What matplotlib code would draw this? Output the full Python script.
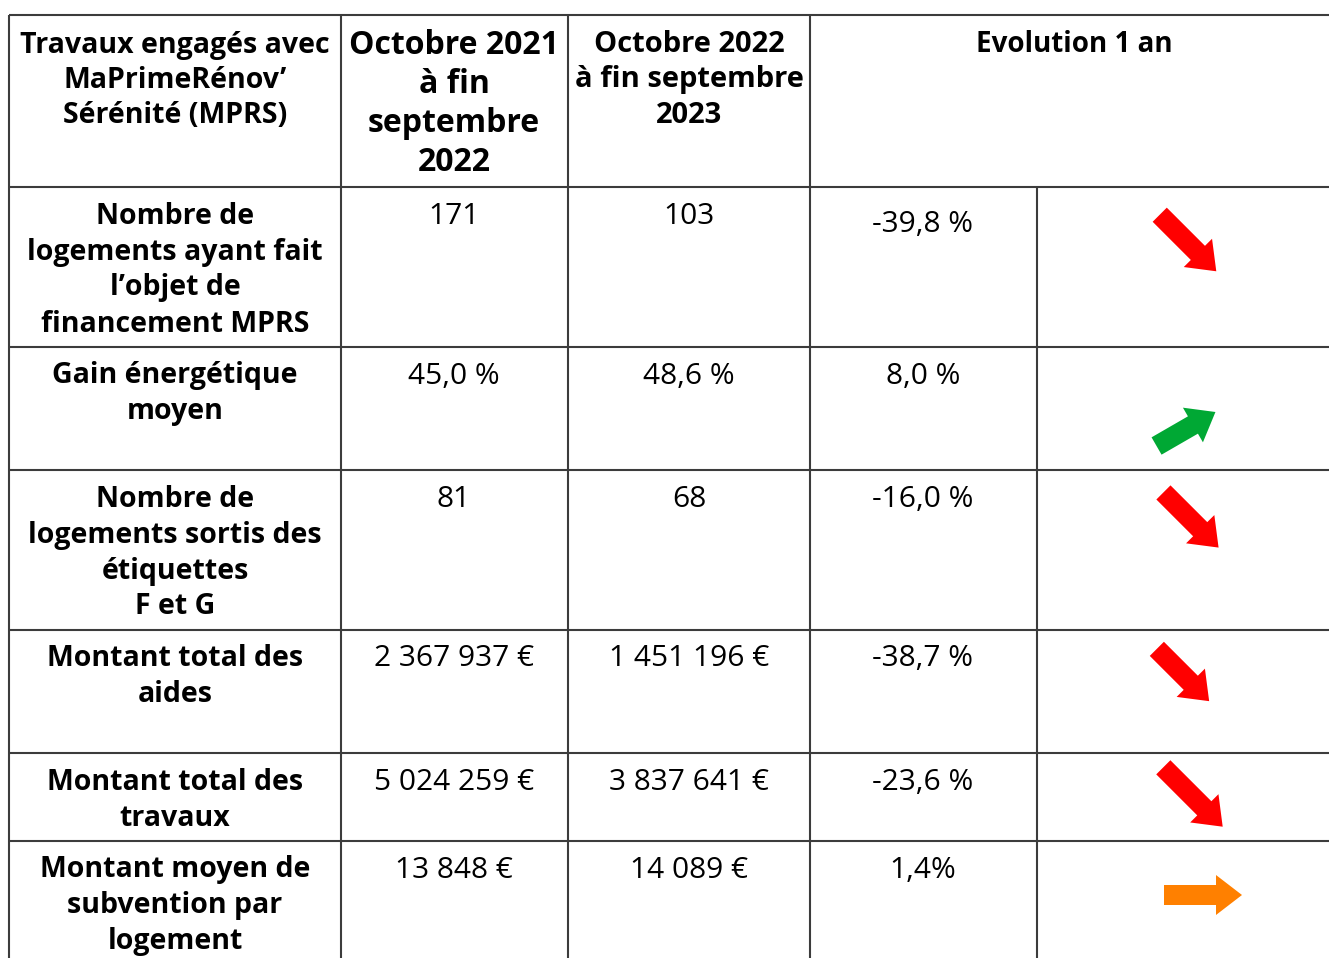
import matplotlib
matplotlib.use('Agg')
import matplotlib.pyplot as plt
from matplotlib.patches import FancyArrow
import numpy as np

plt.rcParams['font.family'] = ['Open Sans', 'DejaVu Sans']

# table content
headers = [
    "Travaux engagés avec\nMaPrimeRénov’\nSérénité (MPRS)",
    "Octobre 2021\nà fin\nseptembre\n2022",
    "Octobre 2022\nà fin septembre\n2023",
    "Evolution 1 an",
]
row_labels = [
    "Nombre de\nlogements ayant fait\nl’objet de\nfinancement MPRS",
    "Gain énergétique\nmoyen",
    "Nombre de\nlogements sortis des\nétiquettes\nF et G",
    "Montant total des\naides",
    "Montant total des\ntravaux",
    "Montant moyen de\nsubvention par\nlogement",
]
val_2022 = ["171", "45,0 %", "81", "2 367 937 €", "5 024 259 €", "13 848 €"]
val_2023 = ["103", "48,6 %", "68", "1 451 196 €", "3 837 641 €", "14 089 €"]
evolution = ["-39,8 %", "8,0 %", "-16,0 %", "-38,7 %", "-23,6 %", "1,4%"]
trend = ["baisse", "hausse", "baisse", "baisse", "baisse", "stable"]

# layout (pixels)
W, H = 1329, 958
col_x = [9, 341, 568, 810, 1037]
row_y = [15, 187, 347, 470, 630, 753, 841]
col_c = [175, 454, 689, 923]
line_h = 36
evo_dy = [8, 0, 0, 0, 0, 0]
arrow_cx = [1188, 1186, 1191, 1183, 1193, 1203]
arrow_dy = [56, 82, 50, 45, 44, 54]
arrow_len = [80, 68, 78, 74, 84, 78]
trend_style = {"baisse": (-45, "#ff0000"), "hausse": (30, "#00a834"), "stable": (0, "#ff8000")}

fig = plt.figure(figsize=(W / 100, H / 100), dpi=100)
ax = fig.add_axes([0, 0, 1, 1])
ax.set_xlim(0, W)
ax.set_ylim(H, 0)
ax.axis('off')

lc = '#3c3c3c'
lw = 1.5
for y in row_y:
    ax.plot([col_x[0], W], [y, y], color=lc, lw=lw, solid_capstyle='butt')
for x in col_x[:4]:
    ax.plot([x, x], [row_y[0], H], color=lc, lw=lw, solid_capstyle='butt')
ax.plot([col_x[4], col_x[4]], [row_y[1], H], color=lc, lw=lw, solid_capstyle='butt')


def draw_lines(text, x, y0, size, weight, step=line_h):
    for i, line in enumerate(text.split("\n")):
        ax.text(x, y0 + i * step, line, ha='center', va='center',
                fontsize=size, fontweight=weight, color='black')


FB = 20.5   # bold labels
FR = 21.5   # regular values
# header
draw_lines(headers[0], col_c[0], 45, FB, 'bold', 35)
draw_lines(headers[1], col_c[1], 45, 23, 'bold', 39)
draw_lines(headers[2], col_c[2], 44, 21, 'bold', 35.5)
draw_lines(headers[3], 1074, 44, 20, 'bold')

for i in range(len(row_labels)):
    top = row_y[i + 1]
    y0 = top + 29
    draw_lines(row_labels[i], col_c[0], y0, FB, 'bold')
    draw_lines(val_2022[i], col_c[1], y0, FR, 'normal')
    draw_lines(val_2023[i], col_c[2], y0, FR, 'normal')
    draw_lines(evolution[i], col_c[3], y0 + evo_dy[i], FR, 'normal')

    ang, clr = trend_style[trend[i]]
    a = np.deg2rad(ang)
    L = arrow_len[i]
    dx, dy = L * np.cos(a), -L * np.sin(a)
    cx, cy = arrow_cx[i], top + arrow_dy[i]
    ax.add_patch(FancyArrow(cx - dx / 2, cy - dy / 2, dx, dy, width=20,
                            head_width=40, head_length=26,
                            length_includes_head=True, color=clr, lw=0))

fig.savefig('out.png', dpi=100)
